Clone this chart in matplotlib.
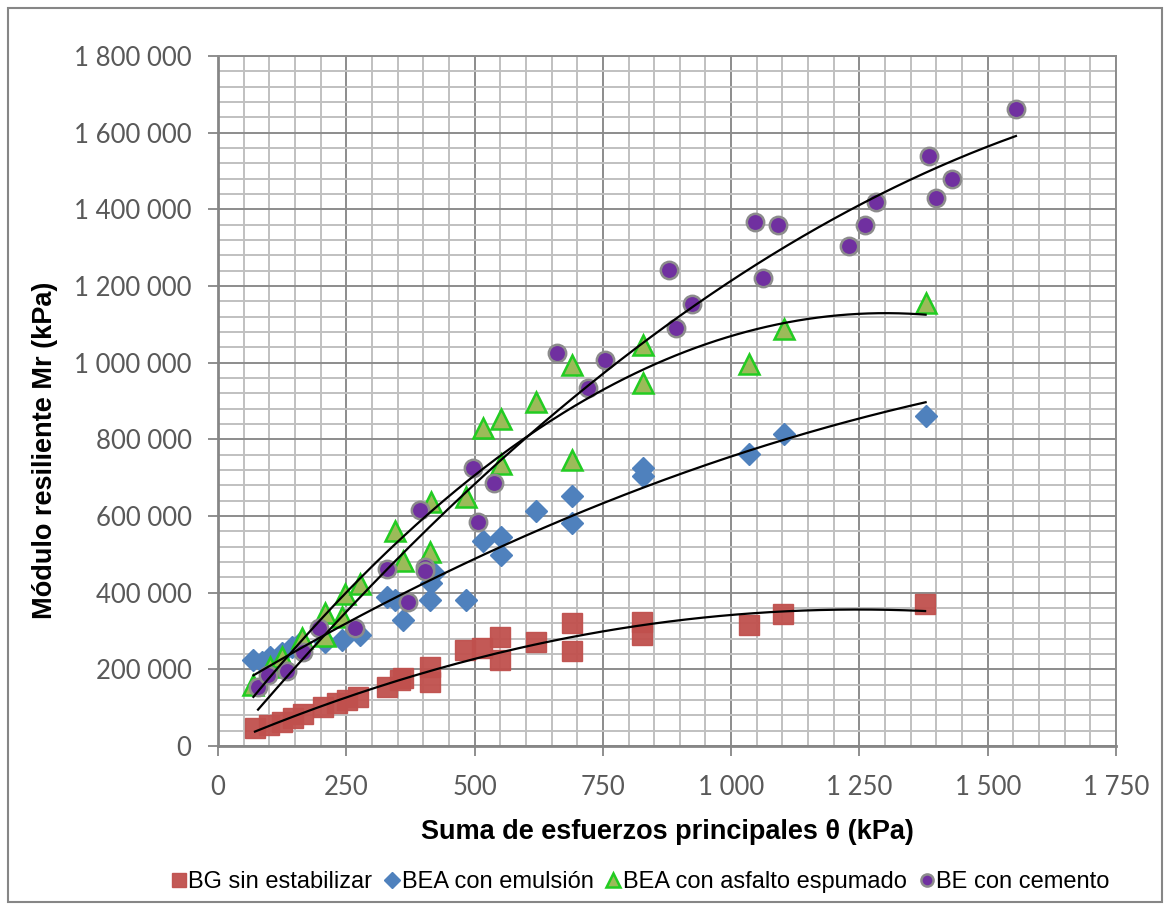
import numpy as np
import matplotlib
matplotlib.use("Agg")
import matplotlib.pyplot as plt
from matplotlib.ticker import MultipleLocator, FuncFormatter
from matplotlib.patches import Rectangle

# BG sin estabilizar
bg_x = [72, 100, 124, 146, 166, 205, 231, 251, 273, 329, 355, 361, 413, 413, 481, 514,
        550, 550, 620, 689, 689, 827, 827, 1034, 1102, 1378]
bg_y = [46e3, 55e3, 63e3, 72e3, 83e3, 102e3, 111e3, 120e3, 129e3, 155e3, 172e3, 177e3,
        207e3, 168e3, 250e3, 255e3, 285e3, 224e3, 272e3, 320e3, 249e3, 324e3, 290e3,
        316e3, 344e3, 370e3]

# BEA con emulsion
em_x = [69, 85, 101, 124, 144, 160, 208, 241, 277, 329, 345, 361, 413, 416, 420, 483,
        517, 552, 552, 620, 689, 689, 828, 828, 1035, 1103, 1379]
em_y = [224e3, 220e3, 233e3, 242e3, 259e3, 268e3, 272e3, 277e3, 290e3, 390e3, 381e3,
        329e3, 381e3, 424e3, 452e3, 381e3, 535e3, 544e3, 497e3, 612e3, 651e3, 581e3,
        724e3, 704e3, 762e3, 814e3, 862e3]

# BEA con asfalto espumado
ae_x = [69, 101, 124, 163, 209, 209, 241, 248, 277, 345, 361, 413, 415, 483, 517, 552,
        552, 620, 689, 689, 828, 828, 1035, 1103, 1379]
ae_y = [158e3, 207e3, 233e3, 283e3, 348e3, 287e3, 337e3, 396e3, 422e3, 560e3, 482e3,
        505e3, 637e3, 650e3, 830e3, 852e3, 735e3, 898e3, 994e3, 746e3, 1047e3, 946e3,
        997e3, 1087e3, 1155e3]

# BE con cemento
ce_x = [78, 98, 134, 166, 196, 267, 330, 371, 394, 403, 403, 496, 506, 537, 660, 722,
        754, 878, 892, 923, 1047, 1062, 1092, 1230, 1261, 1282, 1386, 1399, 1430, 1555]
ce_y = [153e3, 184e3, 195e3, 244e3, 307e3, 307e3, 463e3, 376e3, 616e3, 467e3, 456e3,
        724e3, 584e3, 686e3, 1024e3, 933e3, 1007e3, 1242e3, 1090e3, 1153e3, 1368e3,
        1220e3, 1359e3, 1305e3, 1359e3, 1420e3, 1539e3, 1429e3, 1478e3, 1663e3]

labels = ["BG sin estabilizar", "BEA con emulsión", "BEA con asfalto espumado", "BE con cemento"]

W, H = 1169, 909
fig = plt.figure(figsize=(W / 100, H / 100), dpi=100)
ax = fig.add_axes([218 / W, 1 - 746 / H, (1116 - 218) / W, (746 - 56) / H])

ax.set_xlim(0, 1750)
ax.set_ylim(0, 1800000)
ax.xaxis.set_major_locator(MultipleLocator(250))
ax.xaxis.set_minor_locator(MultipleLocator(50))
ax.yaxis.set_major_locator(MultipleLocator(200000))
ax.yaxis.set_minor_locator(MultipleLocator(40000))
ax.grid(which="minor", color="#c0c0c0", lw=1.4, zorder=0)
ax.grid(which="major", color="#8c8c8c", lw=1.4, zorder=0)
ax.set_axisbelow(True)

sep = FuncFormatter(lambda v, p: f"{int(v):,}".replace(",", " "))
ax.xaxis.set_major_formatter(sep)
ax.yaxis.set_major_formatter(sep)
ax.tick_params(which="major", direction="out", length=7, width=1.3, color="#868686",
               labelsize=18.5, labelcolor="#595959", pad=12)
ax.tick_params(which="minor", length=0)
ax.tick_params(axis="x", pad=14)
for lab in ax.get_xticklabels() + ax.get_yticklabels():
    lab.set_family("Lato")

for s in ["left", "bottom"]:
    ax.spines[s].set_color("#868686")
    ax.spines[s].set_linewidth(2)
for s in ["top", "right"]:
    ax.spines[s].set_color("#8c8c8c")
    ax.spines[s].set_linewidth(1.4)

h1, = ax.plot(bg_x, bg_y, ls="none", marker="s", ms=14, mfc="#c0504d", mec="#c0504d",
              alpha=0.95, zorder=3)
h2, = ax.plot(em_x, em_y, ls="none", marker="D", ms=11, mfc="#4f81bd", mec="#4f81bd",
              zorder=4)
h3, = ax.plot(ae_x, ae_y, ls="none", marker="^", ms=14, mfc="#9bbb59", mec="#22cc22",
              mew=1.8, zorder=5)
h4, = ax.plot(ce_x, ce_y, ls="none", marker="o", ms=12.5, mfc="#7030a0", mec="#8c8c8c",
              mew=1.8, zorder=6)

# second order polynomial trendlines
for xs, ys in [(bg_x, bg_y), (em_x, em_y), (ae_x, ae_y), (ce_x, ce_y)]:
    c = np.polyfit(xs, ys, 2)
    xx = np.linspace(min(xs), max(xs), 200)
    ax.plot(xx, np.polyval(c, xx), color="black", lw=1.6, zorder=7)

fig.text(667 / W, 1 - 832 / H, "Suma de esfuerzos principales θ (kPa)", ha="center",
         va="center", fontsize=19.5, fontweight="bold", family="Liberation Sans")
fig.text(45 / W, 1 - 450 / H, "Módulo resiliente Mr (kPa)", ha="center", va="center",
         rotation=90, fontsize=19.5, fontweight="bold", family="Liberation Sans")

fig.legend([h1, h2, h3, h4], labels, loc="center", bbox_to_anchor=(640 / W, 1 - 882 / H),
           ncol=4, frameon=False, prop={"family": "Liberation Sans", "size": 17},
           handlelength=0.7, handletextpad=0.05, columnspacing=0.5, markerscale=0.7)

fig.patches.append(Rectangle((8 / W, 7 / H), (1162 - 8) / W, (901 - 7) / H,
                             transform=fig.transFigure, fill=False, ec="#868686", lw=1.5))

fig.savefig("out.png", dpi=100)
